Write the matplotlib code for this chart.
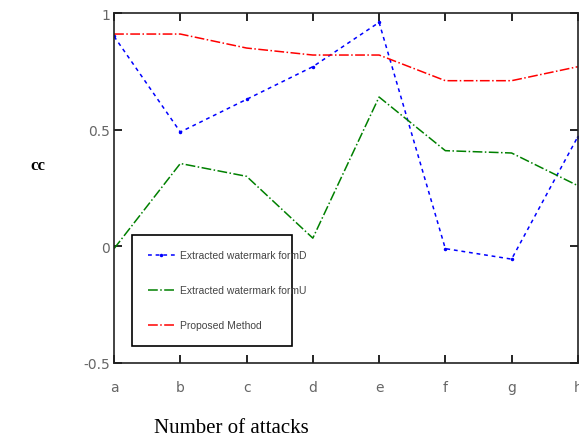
import numpy as np
import matplotlib
matplotlib.use("Agg")
import matplotlib.pyplot as plt

# Data
attacks = ["a", "b", "c", "d", "e", "f", "g", "h"]
wm_D = [0.90, 0.49, 0.63, 0.77, 0.96, -0.01, -0.055, 0.47]
wm_U = [-0.01, 0.355, 0.30, 0.035, 0.64, 0.41, 0.40, 0.26]
proposed = [0.91, 0.91, 0.85, 0.82, 0.82, 0.71, 0.71, 0.77]

x = np.arange(len(attacks))

fig = plt.figure(figsize=(5.79, 4.39), dpi=100)
ax = fig.add_axes([0.197, 0.171, 0.801, 0.797])

ax.plot(x, wm_D, color="#0000ff", lw=1.1, ls=(0, (2.5, 2.5)), marker=".", ms=3,
        label="Extracted watermark formD")
ax.plot(x, wm_U, color="#008000", lw=1.1, ls="-.", label="Extracted watermark formU")
ax.plot(x, proposed, color="#ff0000", lw=1.1, ls="-.", label="Proposed Method")

ax.set_xlim(0, 7)
ax.set_ylim(-0.5, 1)
ax.set_xticks(x)
ax.set_xticklabels(attacks)
ax.set_yticks([-0.5, 0, 0.5, 1])
ax.set_yticklabels(["-0.5", "0", "0.5", "1"])
ax.tick_params(direction="in", length=6, width=1.2, top=True, right=True,
               labelsize=10, labelcolor="#666666")
ax.tick_params(axis="x", pad=12)
ax.tick_params(axis="y", pad=3)
for s in ax.spines.values():
    s.set_linewidth(1.2)
    s.set_color("#222222")

fig.text(0.065, 0.622, "cc", family="Liberation Serif", fontsize=12, fontweight="bold",
         ha="center", va="center")
fig.text(0.399, 0.025, "Number of attacks", family="Liberation Serif", fontsize=15,
         ha="center", va="center")

leg = ax.legend(loc="lower left", bbox_to_anchor=(0.039, 0.049, 0.345, 0.33), mode="expand",
                fancybox=False, edgecolor="black", framealpha=1, handlelength=2.6,
                handletextpad=0.5, labelspacing=2.4, borderpad=1.5, borderaxespad=0,
                prop={"family": "Liberation Sans", "size": 7.5})
leg.get_frame().set_linewidth(1.2)
for t in leg.get_texts():
    t.set_color("#444444")

fig.savefig("out.png", dpi=100)
